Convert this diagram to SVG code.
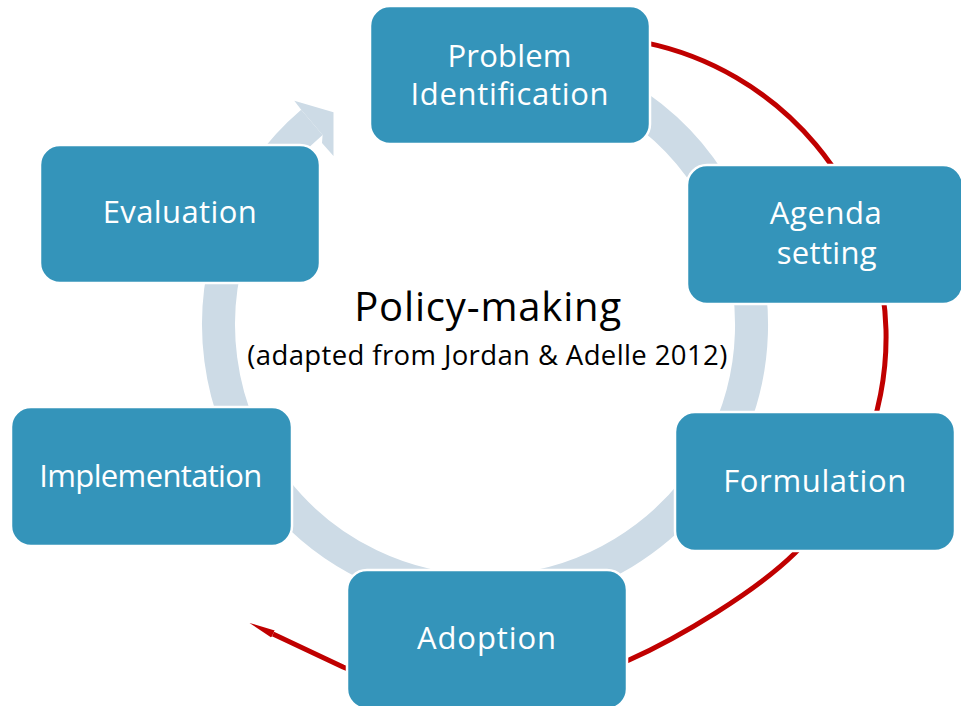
<svg xmlns="http://www.w3.org/2000/svg" width="961" height="706" viewBox="0 0 961 706">
  <style>
    .box { fill: #3494BA; stroke: #FFFFFF; stroke-width: 2.5; }
    .lbl { font-family: "Open Sans", "Liberation Sans", sans-serif; font-size: 31px; fill: #FFFFFF; text-anchor: middle; }
    .ring { fill: none; stroke: #CDDBE6; stroke-width: 33; }
    .ringhead { fill: #CDDBE6; }
    .red { fill: none; stroke: #C00000; stroke-width: 5; }
    .title { font-family: "Open Sans", "Liberation Sans", sans-serif; fill: #000000; text-anchor: middle; }
  </style>
  <defs>
    <marker id="redhead" markerUnits="userSpaceOnUse" viewBox="0 0 28 10" markerWidth="28" markerHeight="10" refX="0" refY="5" orient="auto">
      <path d="M0,1 L26,5 L0,9 z" fill="#C00000"/>
    </marker>
  </defs>
  <rect width="961" height="706" fill="#FFFFFF"/>

  <g id="connectors">
    <path class="ring" d="M 385.2 77.9 A 266.5 266.5 0 1 1 311.9 122.4"/>
    <polygon class="ringhead" points="301.2,109.8 294.3,100.7 333.5,112.3 333.5,156 322,143 322.6,134.9"/>
    <path class="red" marker-end="url(#redhead)" d="M 645 42.6 A 302 302 0 0 1 886 330 A 302 302 0 0 1 795 553 C 755.8 591.6 679.2 637.6 629 660 C 537.7 700.8 434.9 706.5 343 667 L 273 634"/>
  </g>

  <g id="problem-identification">
    <rect class="box" x="370" y="6" width="280" height="138" rx="20"/>
    <text class="lbl" x="509.5" y="66.7" textLength="124">Problem</text>
    <text class="lbl" x="509.5" y="105" textLength="198">Identification</text>
  </g>

  <g id="agenda-setting">
    <rect class="box" x="687" y="165" width="276" height="139" rx="20"/>
    <text class="lbl" x="825.8" y="224" textLength="112">Agenda</text>
    <text class="lbl" x="826.7" y="264.3" textLength="100">setting</text>
  </g>

  <g id="formulation">
    <rect class="box" x="675" y="412" width="280" height="139" rx="20"/>
    <text class="lbl" x="814.7" y="491.7" textLength="183">Formulation</text>
  </g>

  <g id="adoption">
    <rect class="box" x="347" y="570" width="280" height="139" rx="20"/>
    <text class="lbl" x="486.5" y="649" textLength="139">Adoption</text>
  </g>

  <g id="implementation">
    <rect class="box" x="11" y="407" width="281" height="139" rx="20"/>
    <text class="lbl" x="150.8" y="486.7" textLength="223">Implementation</text>
  </g>

  <g id="evaluation">
    <rect class="box" x="40" y="145" width="280" height="138" rx="20"/>
    <text class="lbl" x="179.7" y="223.3" textLength="154">Evaluation</text>
  </g>

  <g id="center-title">
    <text class="title" x="487.7" y="320.7" font-size="40" textLength="267">Policy-making</text>
    <text class="title" x="487.3" y="365" font-size="27.5" textLength="480">(adapted from Jordan &amp; Adelle 2012)</text>
  </g>
</svg>
